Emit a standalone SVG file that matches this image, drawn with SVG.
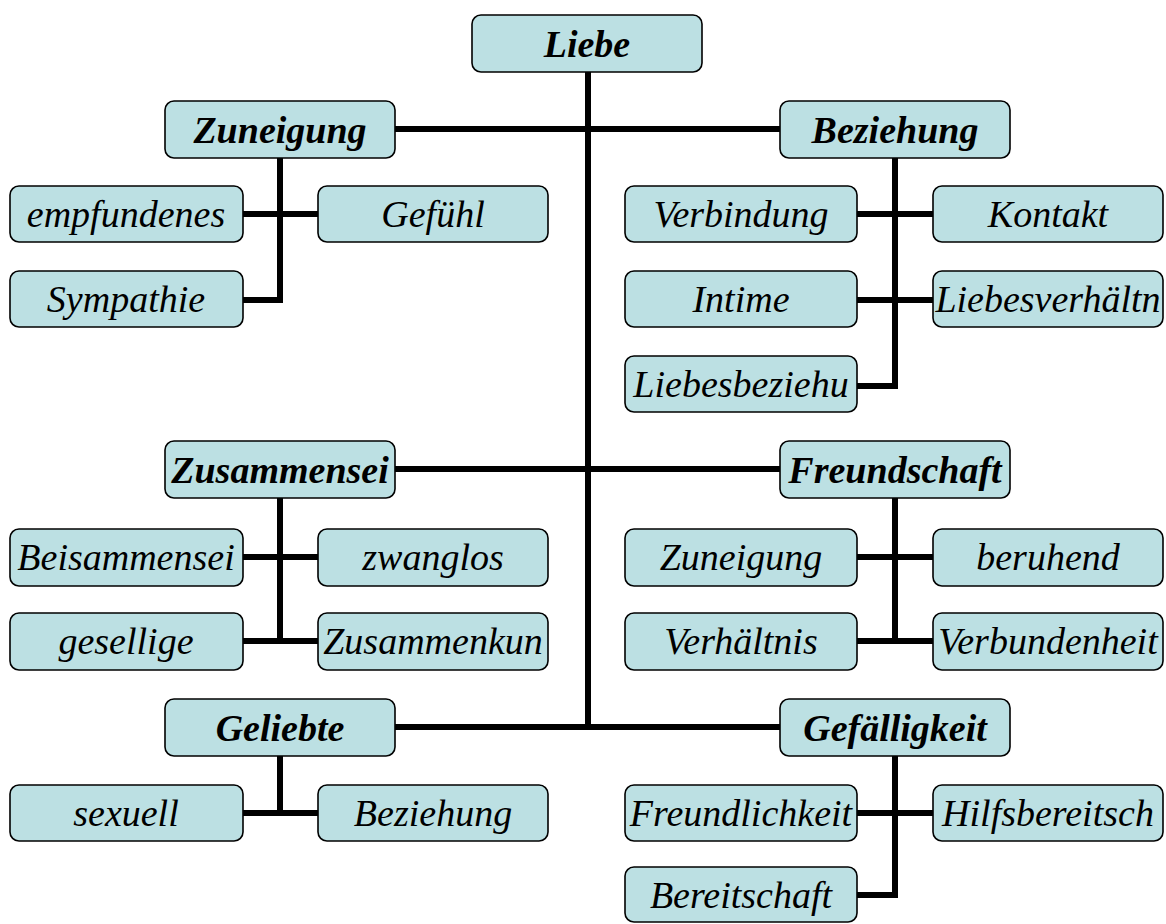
<svg xmlns="http://www.w3.org/2000/svg" width="1166" height="924" viewBox="0 0 1166 924">
  <style>
    .box { fill: #bce0e3; stroke: #000; stroke-width: 1.6; }
    .lbl { font-family: "Liberation Serif", "Times New Roman", serif; font-style: italic; font-size: 38px; fill: #000; text-anchor: middle; }
    .head { font-weight: bold; }
    .link { fill: none; stroke: #000; stroke-width: 6; stroke-linejoin: miter; stroke-linecap: butt; }
  </style>

  <!-- connectors -->
  <g id="connectors">
    <!-- main trunk and branches -->
    <path class="link" d="M588,72 V727"/>
    <path class="link" d="M395,129 H780"/>
    <path class="link" d="M395,469 H780"/>
    <path class="link" d="M395,727 H780"/>
    <!-- Zuneigung -->
    <path class="link" d="M280,158 V300 H243"/>
    <path class="link" d="M243,214 H318"/>
    <!-- Beziehung -->
    <path class="link" d="M895,158 V386 H857"/>
    <path class="link" d="M857,214 H933"/>
    <path class="link" d="M857,300 H933"/>
    <!-- Zusammensei -->
    <path class="link" d="M280,498 V641"/>
    <path class="link" d="M243,557 H318"/>
    <path class="link" d="M243,641 H318"/>
    <!-- Freundschaft -->
    <path class="link" d="M895,498 V641"/>
    <path class="link" d="M857,557 H933"/>
    <path class="link" d="M857,641 H933"/>
    <!-- Geliebte -->
    <path class="link" d="M280,756 V813"/>
    <path class="link" d="M243,813 H318"/>
    <!-- Gefälligkeit -->
    <path class="link" d="M895,756 V895 H857"/>
    <path class="link" d="M857,813 H933"/>
  </g>

  <!-- root -->
  <g id="n-liebe"><rect class="box" x="472" y="15" width="230" height="57" rx="9"/><text class="lbl head" x="587" y="57">Liebe</text></g>

  <!-- Zuneigung branch -->
  <g id="n-zuneigung"><rect class="box" x="165" y="101" width="230" height="57" rx="9"/><text class="lbl head" x="280" y="143">Zuneigung</text></g>
  <g id="n-empfundenes"><rect class="box" x="10" y="186" width="233" height="56" rx="9"/><text class="lbl" x="126" y="227">empfundenes</text></g>
  <g id="n-gefuehl"><rect class="box" x="318" y="186" width="230" height="56" rx="9"/><text class="lbl" x="433" y="227">Gefühl</text></g>
  <g id="n-sympathie"><rect class="box" x="10" y="271" width="233" height="56" rx="9"/><text class="lbl" x="126" y="312">Sympathie</text></g>

  <!-- Beziehung branch -->
  <g id="n-beziehung"><rect class="box" x="780" y="101" width="230" height="57" rx="9"/><text class="lbl head" x="895" y="143">Beziehung</text></g>
  <g id="n-verbindung"><rect class="box" x="625" y="186" width="232" height="56" rx="9"/><text class="lbl" x="741" y="227">Verbindung</text></g>
  <g id="n-kontakt"><rect class="box" x="933" y="186" width="230" height="56" rx="9"/><text class="lbl" x="1048" y="227">Kontakt</text></g>
  <g id="n-intime"><rect class="box" x="625" y="271" width="232" height="56" rx="9"/><text class="lbl" x="741" y="312">Intime</text></g>
  <g id="n-liebesverhaeltn"><rect class="box" x="933" y="271" width="230" height="56" rx="9"/><text class="lbl" x="1048" y="312">Liebesverhältn</text></g>
  <g id="n-liebesbeziehu"><rect class="box" x="625" y="356" width="232" height="56" rx="9"/><text class="lbl" x="741" y="397">Liebesbeziehu</text></g>

  <!-- Zusammensei branch -->
  <g id="n-zusammensei"><rect class="box" x="165" y="441" width="230" height="57" rx="9"/><text class="lbl head" x="280" y="483">Zusammensei</text></g>
  <g id="n-beisammensei"><rect class="box" x="10" y="529" width="233" height="57" rx="9"/><text class="lbl" x="126" y="570">Beisammensei</text></g>
  <g id="n-zwanglos"><rect class="box" x="318" y="529" width="230" height="57" rx="9"/><text class="lbl" x="433" y="570">zwanglos</text></g>
  <g id="n-gesellige"><rect class="box" x="10" y="613" width="233" height="57" rx="9"/><text class="lbl" x="126" y="654">gesellige</text></g>
  <g id="n-zusammenkun"><rect class="box" x="318" y="613" width="230" height="57" rx="9"/><text class="lbl" x="433" y="654">Zusammenkun</text></g>

  <!-- Freundschaft branch -->
  <g id="n-freundschaft"><rect class="box" x="780" y="441" width="230" height="57" rx="9"/><text class="lbl head" x="895" y="483">Freundschaft</text></g>
  <g id="n-zuneigung2"><rect class="box" x="625" y="529" width="232" height="57" rx="9"/><text class="lbl" x="741" y="570">Zuneigung</text></g>
  <g id="n-beruhend"><rect class="box" x="933" y="529" width="230" height="57" rx="9"/><text class="lbl" x="1048" y="570">beruhend</text></g>
  <g id="n-verhaeltnis"><rect class="box" x="625" y="613" width="232" height="57" rx="9"/><text class="lbl" x="741" y="654">Verhältnis</text></g>
  <g id="n-verbundenheit"><rect class="box" x="933" y="613" width="230" height="57" rx="9"/><text class="lbl" x="1048" y="654">Verbundenheit</text></g>

  <!-- Geliebte branch -->
  <g id="n-geliebte"><rect class="box" x="165" y="699" width="230" height="57" rx="9"/><text class="lbl head" x="280" y="741">Geliebte</text></g>
  <g id="n-sexuell"><rect class="box" x="10" y="785" width="233" height="56" rx="9"/><text class="lbl" x="126" y="826">sexuell</text></g>
  <g id="n-beziehung2"><rect class="box" x="318" y="785" width="230" height="56" rx="9"/><text class="lbl" x="433" y="826">Beziehung</text></g>

  <!-- Gefälligkeit branch -->
  <g id="n-gefaelligkeit"><rect class="box" x="780" y="699" width="230" height="57" rx="9"/><text class="lbl head" x="895" y="741">Gefälligkeit</text></g>
  <g id="n-freundlichkeit"><rect class="box" x="625" y="785" width="232" height="56" rx="9"/><text class="lbl" x="741" y="826">Freundlichkeit</text></g>
  <g id="n-hilfsbereitsch"><rect class="box" x="933" y="785" width="230" height="56" rx="9"/><text class="lbl" x="1048" y="826">Hilfsbereitsch</text></g>
  <g id="n-bereitschaft"><rect class="box" x="625" y="867" width="232" height="55" rx="9"/><text class="lbl" x="741" y="908">Bereitschaft</text></g>
</svg>
